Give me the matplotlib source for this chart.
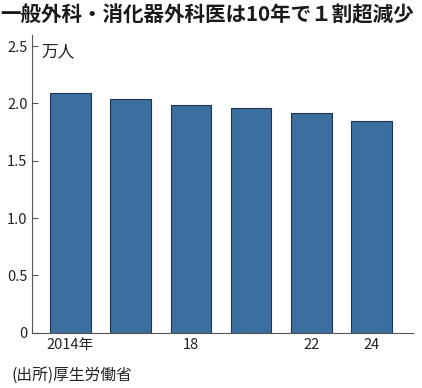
import matplotlib.pyplot as plt
import numpy as np

plt.rcParams['font.family'] = ['Noto Sans CJK JP', 'DejaVu Sans']

# 一般外科・消化器外科医の数（万人）
years = [2014, 2016, 2018, 2020, 2022, 2024]
doctors = [2.087, 2.035, 1.983, 1.962, 1.918, 1.848]
year_labels = ['2014年', '', '18', '', '22', '24']
y_ticks = [0, 0.5, 1.0, 1.5, 2.0, 2.5]
y_tick_labels = ['0', '0.5', '1.0', '1.5', '2.0', '2.5']

fig = plt.figure(figsize=(4.22, 3.88), dpi=100)
ax = fig.add_axes([0.075, 0.1425, 0.904, 0.7685])

x = np.arange(len(years))
ax.bar(x, doctors, width=0.675, color='#3b6f9f', edgecolor='#1e3650', linewidth=0.8)

ax.set_xlim(-0.643, 5.69)
ax.set_ylim(0, 2.6)
ax.set_xticks(x)
ax.set_xticklabels(year_labels, fontsize=10.5, color='#222222')
ax.set_yticks(y_ticks)
ax.set_yticklabels(y_tick_labels, fontsize=10.5, color='#222222')
ax.tick_params(axis='x', length=0, pad=4)
ax.tick_params(axis='y', direction='in', length=4, width=0.8, color='#555555', pad=3)

for s in ['top', 'right']:
    ax.spines[s].set_visible(False)
for s in ['left', 'bottom']:
    ax.spines[s].set_color('#555555')
    ax.spines[s].set_linewidth(0.8)

ax.text(0.025, 2.445, '万人', fontsize=12, color='#222222', va='center', ha='left',
        transform=ax.get_yaxis_transform())

fig.text(0.0, 0.962, '一般外科・消化器外科医は10年で１割超減少', fontsize=14.8,
         fontweight='bold', color='#1a1a1a', ha='left', va='center')
fig.text(0.028, 0.033, '(出所)厚生労働省', fontsize=11.3, color='#222222', ha='left', va='center')

fig.savefig('out.png', dpi=100)
